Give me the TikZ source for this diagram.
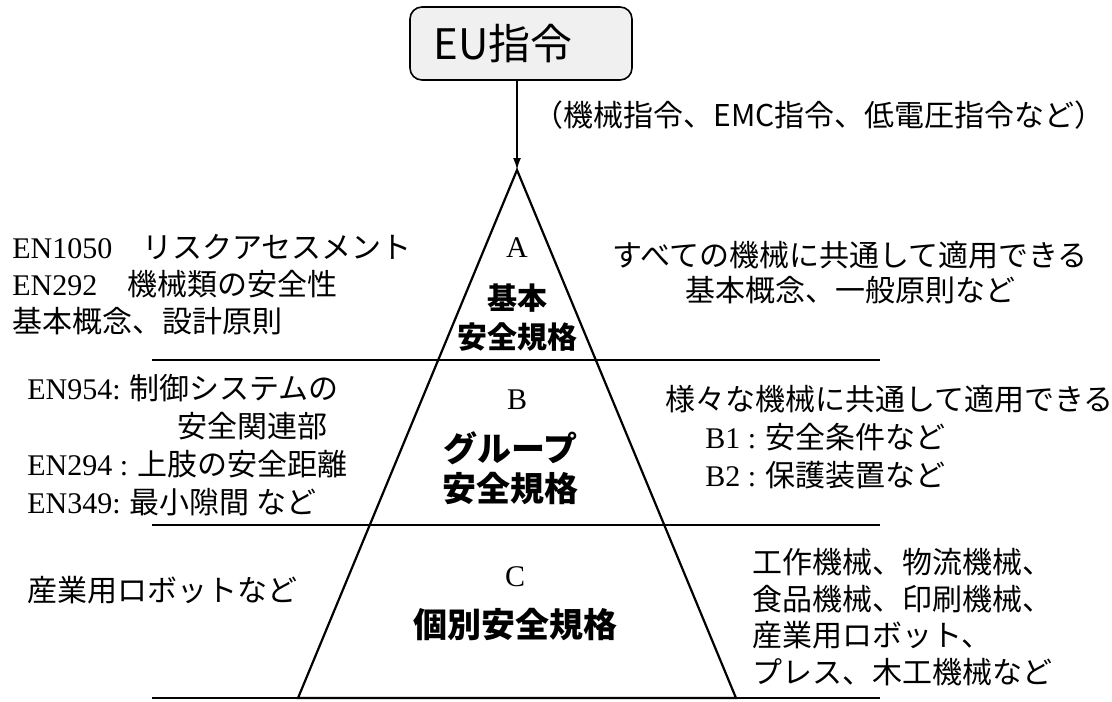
\documentclass[tikz,border=0pt]{standalone}
\usepackage{fontspec}
\setmainfont{Liberation Serif}
\newfontfamily\jp{Noto Sans CJK JP}
\newcommand\en[1]{{\rmfamily #1}}
\usetikzlibrary{arrows.meta}

\begin{document}
\begin{tikzpicture}[x=0.5pt,y=-0.5pt,
    every node/.style={inner sep=0pt},
    sidenote/.style={anchor=west, align=left, font=\jp\fontsize{15}{18.5}\selectfont},
    tierletter/.style={font=\rmfamily\fontsize{15}{18}\selectfont},
    tiername/.style={align=center, font=\jp\bfseries\fontsize{17}{20}\selectfont},
    band/.style={line width=0.8pt},
    pyramid/.style={line width=1.1pt, line join=miter}]
    \useasboundingbox (0,0) rectangle (1112,701);

    % directive box on top
    \node[draw, line width=0.8pt, rounded corners=6pt, fill=gray!12,
      minimum width=111pt, minimum height=36.5pt,
      font=\jp\fontsize{21}{24}\selectfont] (eu) at (521,43.5) {EU指令\hspace*{18pt}};
    \node[font=\jp\fontsize{15}{18}\selectfont] (directives) at (819,115)
      {（機械指令、EMC指令、低電圧指令など）};

    % pyramid
    \coordinate (apex) at (517,170);
    \coordinate (bl) at (298,698);
    \coordinate (br) at (736,698);
    \foreach \y in {360,525,698}
      \draw[band] (152,\y) -- (880,\y);
    \draw[pyramid] (bl) -- (apex) -- (br) -- cycle;
    \draw[line width=0.9pt, -{Latex[length=6pt,width=4pt]}] (eu.south -| apex) -- (apex);

    % tier A
    \node[tierletter] (tierA) at (517,248) {A};
    \node[tiername, font=\jp\bfseries\fontsize{15}{19.5}\selectfont] (nameA) at (517,317.5) {基本\\安全規格};
    \node[sidenote] (leftA) at (12,285)
      {\en{EN1050}　リスクアセスメント\\\en{EN292}　機械類の安全性\\基本概念、設計原則};
    \node[sidenote, align=center, anchor=center,
      font=\jp\fontsize{15}{17.5}\selectfont] (rightA) at (850,272.5)
      {すべての機械に共通して適用できる\\基本概念、一般原則など};

    % tier B
    \node[tierletter] (tierB) at (517,400) {B};
    \node[tiername] (nameB) at (510,468) {グループ\\安全規格};
    \node[sidenote, font=\jp\fontsize{15}{19}\selectfont] (leftB) at (27,445.5)
      {\en{EN954:} 制御システムの\\\hspace*{75pt}安全関連部\\\en{EN294 :} 上肢の安全距離\\\en{EN349:} 最小隙間 など};
    \node[sidenote, font=\jp\fontsize{15}{19}\selectfont] (rightB) at (665,437.5)
      {様々な機械に共通して適用できる\\\hspace*{20pt}\en{B1 :} 安全条件など\\\hspace*{20pt}\en{B2 :} 保護装置など};

    % tier C
    \node[tierletter] (tierC) at (515,577) {C};
    \node[tiername] (nameC) at (515,625) {個別安全規格};
    \node[sidenote] (leftC) at (27,590) {産業用ロボットなど};
    \node[sidenote, font=\jp\fontsize{15}{18.3}\selectfont] (rightC) at (752,617)
      {工作機械、物流機械、\\食品機械、印刷機械、\\産業用ロボット、\\プレス、木工機械など};
\end{tikzpicture}
\end{document}
